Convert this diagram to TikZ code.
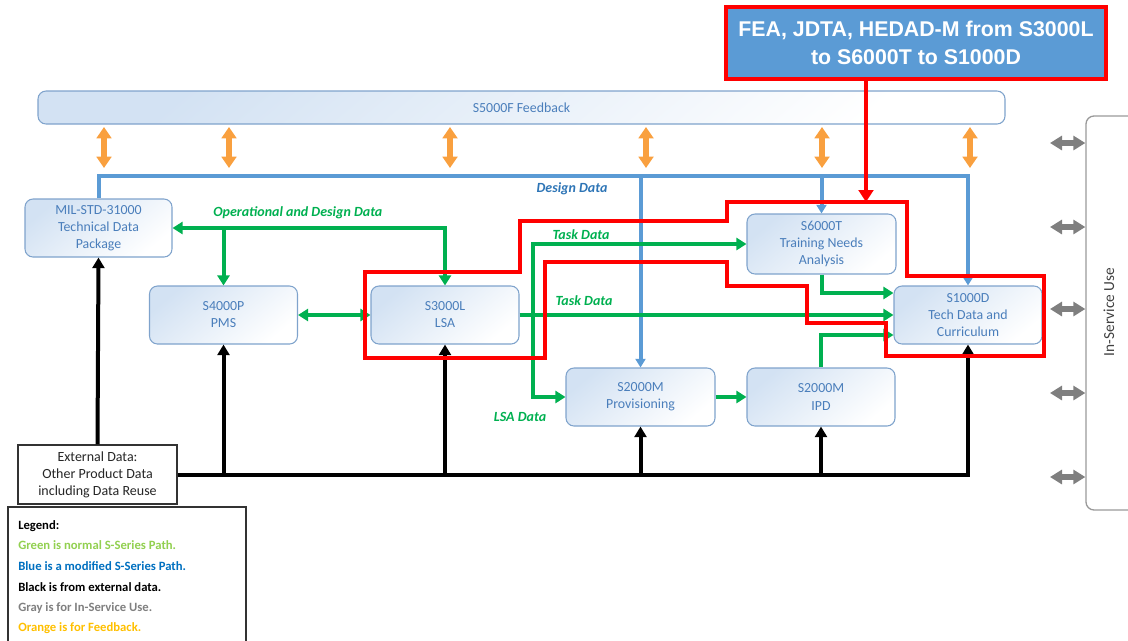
\documentclass[tikz,border=0pt]{standalone}
\usepackage{fontspec}
\setmainfont{Carlito}
\newfontfamily\headfont{Liberation Sans}
\usetikzlibrary{arrows.meta,calc}

\definecolor{bline}{HTML}{5B9BD5}
\definecolor{gline}{HTML}{00B050}
\definecolor{oline}{HTML}{F9A03F}
\definecolor{grline}{HTML}{7F7F7F}
\definecolor{rline}{HTML}{FF0000}
\definecolor{boxedge}{HTML}{7FA3CC}
\definecolor{boxfill}{HTML}{D3E2F3}
\definecolor{boxtext}{HTML}{4A7EBB}
\definecolor{ddtext}{HTML}{2E75B6}
\definecolor{lggreen}{HTML}{92D050}
\definecolor{lgblue}{HTML}{0070C0}
\definecolor{lggray}{HTML}{808080}
\definecolor{lgorange}{HTML}{FFC000}

\tikzset{
  sbox/.style={rounded corners=6pt, draw=boxedge, line width=0.8pt,
    top color=boxfill, bottom color=white, shading angle=40,
    inner sep=0pt, align=center, text=boxtext,
    font=\fontsize{10.4}{12.8}\selectfont},
  gpath/.style={draw=gline, line width=3pt},
  garrow/.style={gpath, -{Triangle[length=7.5pt,width=9pt]}},
  gboth/.style={gpath, {Triangle[length=7.5pt,width=9pt]}-{Triangle[length=7.5pt,width=9pt]}},
  barrow/.style={draw=bline, line width=3pt, -{Triangle[length=6.5pt,width=7.5pt]}},
  karrow/.style={draw=black, line width=3pt, -{Triangle[length=8pt,width=9pt]}},
  oarrow/.style={draw=oline, line width=4pt,
    {Triangle[length=8.5pt,width=11pt]}-{Triangle[length=8.5pt,width=11pt]}},
  grarrow/.style={draw=grline, line width=4pt,
    {Triangle[length=9pt,width=10.5pt]}-{Triangle[length=9pt,width=10.5pt]}},
  flowlabel/.style={font=\bfseries\itshape\fontsize{10.5}{12}\selectfont, inner sep=0pt},
  legendline/.style={font=\bfseries\fontsize{9.5}{11}\selectfont, anchor=west, inner sep=0pt}
}

\begin{document}
\begin{tikzpicture}[x=0.75pt,y=-0.75pt]
\useasboundingbox (0,0) rectangle (1128,640);
\clip (0,0) rectangle (1128,640);

% feedback bar
\node[sbox, minimum width=725.25pt, minimum height=24.75pt, font=\fontsize{10.4}{12}\selectfont]
  (feedback) at (521.5,107.5) {S5000F Feedback};

% standard boxes
\node[sbox, minimum width=110.25pt, minimum height=43.5pt] (mil) at (98.5,228)
  {MIL-STD-31000\\Technical Data\\Package};
\node[sbox, minimum width=111pt, minimum height=43.5pt] (pms) at (223.5,315) {S4000P\\PMS};
\node[sbox, minimum width=111pt, minimum height=43.5pt] (lsa) at (445,315) {S3000L\\LSA};
\node[sbox, minimum width=111.75pt, minimum height=45pt] (tna) at (821.5,244)
  {S6000T\\Training Needs\\Analysis};
\node[sbox, minimum width=111pt, minimum height=43.5pt] (s1000d) at (968,315)
  {S1000D\\Tech Data and\\Curriculum};
\node[sbox, minimum width=111.75pt, minimum height=43.5pt] (prov) at (640.5,397)
  {S2000M\\Provisioning};
\node[sbox, minimum width=111pt, minimum height=43.5pt] (ipd) at (821,397) {S2000M\\IPD};

% external data source
\node[draw=black!80, line width=0.9pt, fill=white, minimum width=119.25pt, minimum height=44.25pt,
  inner sep=0pt, align=center, font=\fontsize{10.5}{12.8}\selectfont, text=black!85]
  (ext) at (97.5,474.5) {External Data:\\Other Product Data\\including Data Reuse};

% legend
\draw[black!80, line width=0.9pt, fill=white] (8,507) rectangle (246,660);
\node[legendline, text=black] (lg0) at (18,526) {Legend:};
\node[legendline, text=lggreen] (lg1) at (18,545) {Green is normal S-Series Path.};
\node[legendline, text=lgblue] (lg2) at (18,566) {Blue is a modified S-Series Path.};
\node[legendline, text=black] (lg3) at (18,587) {Black is from external data.};
\node[legendline, text=lggray] (lg4) at (18,608) {Gray is for In-Service Use.};
\node[legendline, text=lgorange] (lg5) at (18,628) {Orange is for Feedback.};

% in-service use panel
\node[draw=black!40, line width=1pt, rounded corners=6pt, minimum width=40.5pt,
  minimum height=295.5pt, inner sep=0pt] (isbox) at (1113,313) {};
\node[rotate=90, font=\fontsize{11.5}{13}\selectfont, text=black!75] (isuse) at (1109,312) {In-Service Use};
\foreach \i/\yy in {1/143,2/227,3/309,4/393,5/477}{
  \coordinate (isl\i) at (1050,\yy);
  \draw[grarrow] (isl\i) -- (isbox.west |- isl\i);
}

% feedback exchanges
\foreach \i/\xx in {1/104,2/229,3/450,4/646,5/822,6/970}{
  \coordinate (fbt\i) at (\xx,127);
  \coordinate (fbb\i) at (\xx,168);
  \draw[oarrow] (fbt\i) -- (fbb\i);
}

% design data (blue)
\coordinate (ddR) at (968,176);
\draw[barrow] (mil.north) |- (ddR) -- (s1000d.north);
\draw[barrow] (prov.north |- ddR) -- (prov.north);
\draw[barrow] (tna.north |- ddR) -- (tna.north);
\node[flowlabel, text=ddtext] (ddlbl) at (572,189) {Design Data};

% external data (black)
\draw[karrow] (ext.east) -| (s1000d.south);
\draw[karrow] (ext.north) -- (mil.south);
\draw[karrow] (pms.south |- ext.east) -- (pms.south);
\draw[karrow] (lsa.south |- ext.east) -- (lsa.south);
\draw[karrow] (prov.south |- ext.east) -- (prov.south);
\draw[karrow] (ipd.south |- ext.east) -- (ipd.south);

% S-series paths (green)
\draw[gboth] (mil.east) -| (lsa.north);
\draw[garrow] (pms.north |- mil.east) -- (pms.north);
\draw[gboth] (pms.east) -- (lsa.west);
\draw[garrow] (lsa.east) -- (s1000d.west);
\coordinate (lsasplit) at (533,315);
\draw[garrow] (lsasplit) |- (tna.west);
\draw[garrow] (lsasplit) |- (prov.west);
\draw[garrow] (prov.east) -- (ipd.west);
\draw[garrow] (tna.south) |- ($(s1000d.west)+(0,-22)$);
\draw[garrow] (ipd.north) |- ($(s1000d.west)+(0,20)$);

\node[flowlabel, text=gline, anchor=west] (odlbl) at (213,213) {Operational and Design Data};
\node[flowlabel, text=gline] (td1) at (581,235) {Task Data};
\node[flowlabel, text=gline] (td2) at (584,301) {Task Data};
\node[flowlabel, text=gline] (lsalbl) at (520,417) {LSA Data};

% highlighted path
\draw[rline, line width=3pt, line join=miter]
  (727,202) -- (907,202) -- (907,276) -- (1044,276) -- (1044,356) -- (886,356)
  -- (886,323) -- (807,323) -- (807,286) -- (727,286) -- (727,262) -- (545,262)
  -- (545,358) -- (365,358) -- (365,272) -- (520,272) -- (520,221) -- (727,221) -- cycle;

% callout
\node[fill=bline, draw=rline, line width=3pt, minimum width=285pt, minimum height=54pt,
  inner sep=0pt, align=center, text=white,
  font=\headfont\bfseries\fontsize{16}{21}\selectfont]
  (callout) at (916,43) {FEA, JDTA, HEDAD-M from S3000L\\to S6000T to S1000D};
\coordinate (redtip) at (866,202);
\draw[draw=rline, line width=3pt, -{Triangle[length=9pt,width=11pt]}] (callout.south -| redtip) -- (redtip);
\end{tikzpicture}
\end{document}
